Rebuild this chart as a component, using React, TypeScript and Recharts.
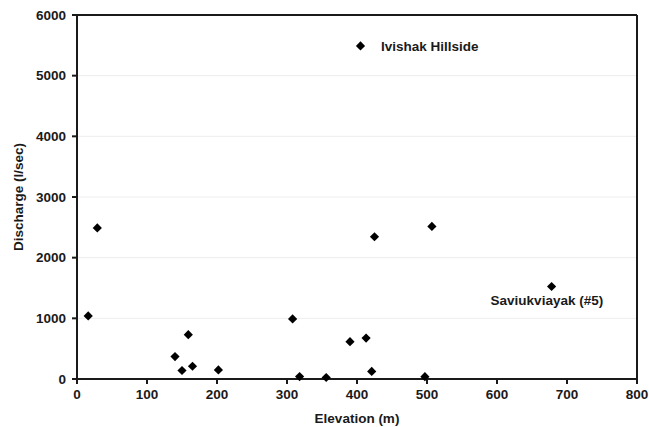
import {
  CartesianGrid,
  LabelList,
  ReferenceLine,
  Scatter,
  ScatterChart,
  XAxis,
  YAxis,
} from "recharts";

// elevation (m) and discharge (l/sec) per site
const elevation = [16, 29, 140, 150, 159, 165, 202, 308, 318, 356, 390, 413, 421, 425, 497, 507, 678, 405];
const discharge = [1040, 2490, 370, 140, 730, 210, 150, 990, 40, 25, 615, 675, 125, 2345, 38, 2515, 1525, 5490];
const siteNames = ["", "", "", "", "", "", "", "", "", "", "", "", "", "", "", "", "Saviukviayak (#5)", "Ivishak Hillside"];

const xTicks = [0, 100, 200, 300, 400, 500, 600, 700, 800];
const yTicks = [0, 1000, 2000, 3000, 4000, 5000, 6000];

const points = elevation.map((x, i) => ({ x, y: discharge[i], name: siteNames[i] }));

const FONT = "'Liberation Sans', Arial, sans-serif";
const INK = "#1a1a1a";
const FS = 13.5;

/** Filled square-on-point diamond, like the old Excel marker. */
function Diamond(props: { cx?: number; cy?: number }) {
  const { cx = 0, cy = 0 } = props;
  const r = 4.6;
  return (
    <path
      d={`M${cx},${cy - r}L${cx + r},${cy}L${cx},${cy + r}L${cx - r},${cy}Z`}
      fill="#000"
    />
  );
}

function SiteLabel(props: { x?: number; y?: number; width?: number; height?: number; value?: string }) {
  const { x = 0, y = 0, width = 0, height = 0, value } = props;
  if (!value) return null;
  const cx = x + width / 2;
  const cy = y + height / 2;
  // the Ivishak label sits to the right, the other one hangs underneath
  const right = value.startsWith("Ivishak");
  return (
    <text
      x={right ? cx + 20.5 : cx - 61}
      y={right ? cy + 5 : cy + 18.5}
      fontFamily={FONT}
      fontWeight="bold"
      fontSize={FS}
      fill={INK}
    >
      {value}
    </text>
  );
}

export default function App() {
  const tick = { fontSize: FS, fontWeight: "bold", fill: INK, fontFamily: FONT };
  const title = { fontFamily: FONT, fontWeight: "bold", fontSize: FS, fill: INK };
  return (
    <div style={{ position: "absolute", left: 0, top: 0, background: "#fff" }}>
      <ScatterChart width={649} height={427} margin={{ top: 15, right: 12, left: 0, bottom: 0 }}>
        <CartesianGrid vertical={false} stroke="#ededed" strokeWidth={1} />
        <XAxis
          type="number"
          dataKey="x"
          domain={[0, 800]}
          ticks={xTicks}
          interval={0}
          height={48}
          tick={tick}
          tickSize={5}
          tickMargin={5}
          axisLine={{ stroke: INK, strokeWidth: 2 }}
          tickLine={{ stroke: INK, strokeWidth: 2 }}
          label={{ value: "Elevation (m)", position: "insideBottom", offset: 4, style: title }}
        />
        <YAxis
          type="number"
          dataKey="y"
          domain={[0, 6000]}
          ticks={yTicks}
          interval={0}
          width={77}
          tick={tick}
          tickSize={5}
          tickMargin={6}
          axisLine={{ stroke: INK, strokeWidth: 2 }}
          tickLine={{ stroke: INK, strokeWidth: 2 }}
          label={{
            value: "Discharge (l/sec)",
            angle: -90,
            position: "insideLeft",
            offset: 18,
            style: { ...title, textAnchor: "middle" },
          }}
        />
        <ReferenceLine y={6000} stroke={INK} strokeWidth={2} />
        <ReferenceLine x={800} stroke={INK} strokeWidth={2} />
        <Scatter data={points} shape={<Diamond />} isAnimationActive={false}>
          <LabelList dataKey="name" content={<SiteLabel />} />
        </Scatter>
      </ScatterChart>
    </div>
  );
}
